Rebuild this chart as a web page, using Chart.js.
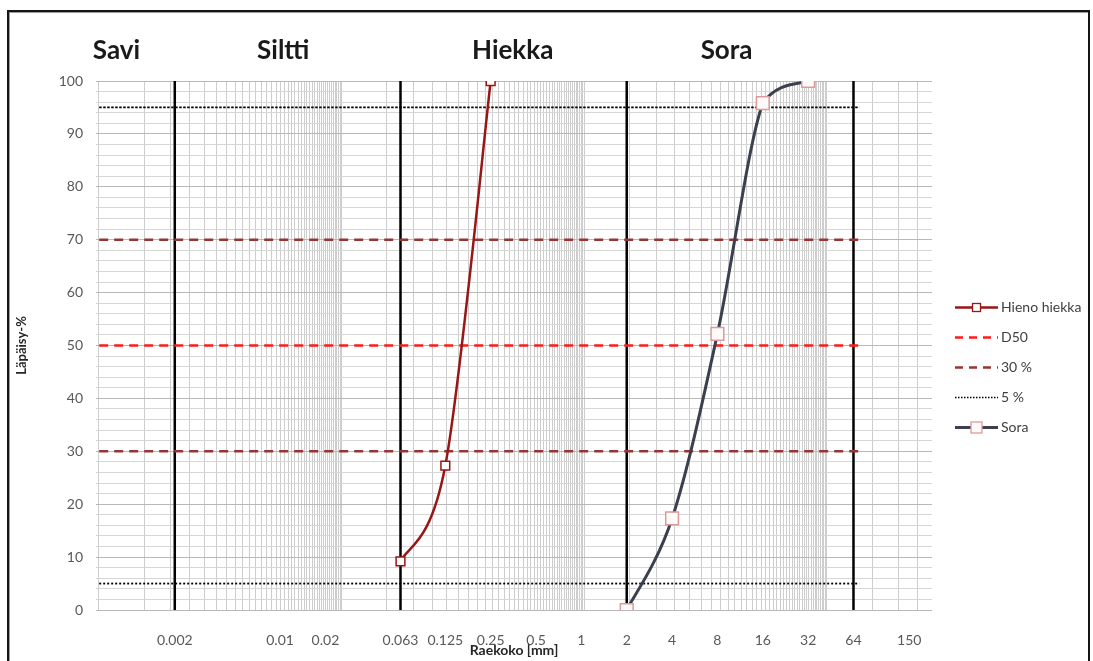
<!DOCTYPE html>
<html><head><meta charset="utf-8">
<script src="https://cdn.jsdelivr.net/npm/chart.js@4"></script>
<style>
html,body{margin:0;padding:0;background:#fff;width:1093px;height:661px;overflow:hidden}
#wrap{position:absolute;left:0;top:0;width:1093px;height:661px}
#frame{position:absolute;left:7px;top:10px;width:1079px;height:700px;border:2px solid #151515;box-shadow:inset 1px 1px 0 #9a9a9a;pointer-events:none}
</style></head><body>
<div id="wrap"><canvas id="c" width="1093" height="661"></canvas></div>
<div id="frame"></div>
<script>
// ---- data ----
const HIENO_X = [0.063, 0.125, 0.25];
const HIENO_Y = [9.2, 27.3, 100];
const SORA_X = [2, 4, 8, 16, 32];
const SORA_Y = [0, 17.3, 52.2, 95.8, 100];
const D50_Y = [50];
const LIMIT30_Y = [30, 70];
const LIMIT5_Y = [5, 95];
const LIMIT_X = [0.00063, 70];
const FRACTION_BOUNDS = [0.002, 0.063, 2, 64];
const FRACTION_NAMES = ['Savi', 'Siltti', 'Hiekka', 'Sora'];
const FRACTION_LABEL_X = [0.00082, 0.0105, 0.35, 9.2];
const X_TICKS = [0.002, 0.01, 0.02, 0.063, 0.125, 0.25, 0.5, 1, 2, 4, 8, 16, 32, 64, 150];
const X_TICK_LABELS = ['0.002', '0.01', '0.02', '0.063', '0.125', '0.25', '0.5', '1', '2', '4', '8', '16', '32', '64', '150'];
const Y_TICKS_MAJOR = [0, 10, 20, 30, 40, 50, 60, 70, 80, 90, 100];
const X_MIN = 0.000628, X_MAX = 212.5, GRID_BASE = 40.8;

// gridline positions (Excel-like log minor grid)
const GRID_X = [];
for (let c = X_MIN; c < X_MAX; c *= GRID_BASE) {
  for (let k = 1; k <= 40; k++) { const v = c * k; if (v <= X_MAX * 1.0001) GRID_X.push(v); }
}

const HIENO_C = '#981616', SORA_C = '#3b3f4e', D50_C = '#ff1a1a', L30_C = '#963634', L5_C = '#000000';
const FONT = 'Lato, "Open Sans", sans-serif';

const pts = (xs, ys) => xs.map((x, i) => ({x, y: ys[i]}));
const hline = (y) => LIMIT_X.map(x => ({x, y}));
const vline = (x) => [{x, y: 0}, {x, y: 100}];

const datasets = [
  {label: 'Hieno hiekka', data: pts(HIENO_X, HIENO_Y), borderColor: HIENO_C, borderWidth: 2.5, tension: 0.4, smoothExcel: true,
   pointStyle: 'rect', pointRadius: 6.2, pointBackgroundColor: '#fff', pointBorderColor: HIENO_C, pointBorderWidth: 1.5, order: 0},
  {label: 'Sora', data: pts(SORA_X, SORA_Y), borderColor: SORA_C, borderWidth: 3, tension: 0.4, smoothExcel: true,
   pointStyle: 'rect', pointRadius: 9, pointBackgroundColor: '#fffafa', pointBorderColor: '#dd9a9a', pointBorderWidth: 1.5, order: 0},
  {label: 'D50', data: hline(D50_Y[0]), borderColor: D50_C, borderWidth: 2.5, borderDash: [9, 6], pointRadius: 0, order: 1},
  {label: '30 %', data: hline(LIMIT30_Y[0]), borderColor: L30_C, borderWidth: 2.5, borderDash: [9, 6], pointRadius: 0, order: 1},
  {label: '30 %b', data: hline(LIMIT30_Y[1]), borderColor: L30_C, borderWidth: 2.5, borderDash: [9, 6], pointRadius: 0, order: 1},
  {label: '5 %', data: hline(LIMIT5_Y[0]), borderColor: L5_C, borderWidth: 1.8, borderDash: [2, 2], pointRadius: 0, order: 1},
  {label: '5 %b', data: hline(LIMIT5_Y[1]), borderColor: L5_C, borderWidth: 1.8, borderDash: [2.5, 1.5], pointRadius: 0, order: 1},
  ...FRACTION_BOUNDS.map(b => ({label: 'raja ' + b, data: vline(b), borderColor: '#000', borderWidth: 2.5, pointRadius: 0, order: 2}))
];

const LEGEND = [
  {text: 'Hieno hiekka', color: HIENO_C, dash: [], width: 2.5, marker: {fill: '#fff', stroke: HIENO_C, size: 8}},
  {text: 'D50', color: D50_C, dash: [8, 6], width: 2.5},
  {text: '30 %', color: L30_C, dash: [8, 6], width: 2.5},
  {text: '5 %', color: L5_C, dash: [1.5, 1.5], width: 1.5},
  {text: 'Sora', color: SORA_C, dash: [], width: 3, marker: {fill: '#fffafa', stroke: '#dd9a9a', size: 11}}
];

// Excel-style (Catmull-Rom) smoothing of the measured curves
const excelSmooth = {
  id: 'excelSmooth',
  afterDatasetsUpdate(chart) {
    const area = chart.chartArea;
    chart.data.datasets.forEach((ds, di) => {
      if (!ds.smoothExcel) return;
      const meta = chart.getDatasetMeta(di);
      const p = meta.data;
      for (let i = 0; i < p.length; i++) {
        const prev = p[i - 1] || p[i], next = p[i + 1] || p[i];
        const dx = (next.x - prev.x) / 6, dy = (next.y - prev.y) / 6;
        const cl = v => Math.max(area.top, Math.min(area.bottom, v));
        p[i].cp1x = p[i].x - dx; p[i].cp1y = cl(p[i].y - dy);
        p[i].cp2x = p[i].x + dx; p[i].cp2y = cl(p[i].y + dy);
      }
      if (meta.dataset) meta.dataset._pointsUpdated = true;
    });
  }
};

const extras = {
  id: 'extras',
  afterDraw(chart) {
    const ctx = chart.ctx, xs = chart.scales.x;
    ctx.save();
    ctx.font = 'bold 26px ' + FONT;
    ctx.fillStyle = '#1a1a1a';
    ctx.textAlign = 'center';
    ctx.textBaseline = 'middle';
    FRACTION_NAMES.forEach((n, i) => ctx.fillText(n, xs.getPixelForValue(FRACTION_LABEL_X[i]), 51));
    const lx = chart.chartArea.right + 23, ly0 = 307, step = 30;
    ctx.font = '14px ' + FONT;
    ctx.textAlign = 'left';
    LEGEND.forEach((it, i) => {
      const y = Math.round(ly0 + i * step) + 0.5;
      ctx.beginPath();
      ctx.setLineDash(it.dash);
      ctx.strokeStyle = it.color;
      ctx.lineWidth = it.width;
      ctx.moveTo(lx, y); ctx.lineTo(lx + 43, y);
      ctx.stroke();
      ctx.setLineDash([]);
      if (it.marker) {
        const s = it.marker.size;
        ctx.fillStyle = it.marker.fill; ctx.strokeStyle = it.marker.stroke; ctx.lineWidth = 1.3;
        ctx.fillRect(lx + 21.5 - s / 2, y - s / 2, s, s);
        ctx.strokeRect(lx + 21.5 - s / 2, y - s / 2, s, s);
      }
      ctx.fillStyle = '#404040';
      ctx.fillText(it.text, lx + 46, y);
    });
    ctx.restore();
  }
};

new Chart(document.getElementById('c'), {
  type: 'line',
  data: {datasets},
  options: {
    responsive: false, animation: false, devicePixelRatio: 1,
    layout: {padding: {top: 81, right: 161, bottom: 0, left: 0}},
    plugins: {legend: {display: false}, tooltip: {enabled: false}},
    scales: {
      x: {
        type: 'logarithmic', position: 'bottom', min: X_MIN, max: X_MAX,
        grid: {display: false}, border: {display: false},
        afterBuildTicks: s => { s.ticks = X_TICKS.map(v => ({value: v})); },
        afterFit: s => { s.height = 51; },
        ticks: {autoSkip: false, maxRotation: 0, minRotation: 0, padding: 14, color: '#595959', font: {family: FONT, size: 14},
          callback: (v, i) => X_TICK_LABELS[i]},
        title: {display: true, text: 'Raekoko [mm]', color: '#262626', font: {family: FONT, size: 14, weight: 'bold'}, padding: {top: 0, bottom: 2}}
      },
      xg: {
        type: 'logarithmic', position: 'top', min: X_MIN, max: X_MAX,
        grid: {color: '#cdcdcd', lineWidth: 1, drawTicks: false}, border: {display: false},
        ticks: {display: false},
        afterBuildTicks: s => { s.ticks = GRID_X.map(v => ({value: v})); },
        afterFit: s => { s.height = 0; }
      },
      y: {
        type: 'linear', min: 0, max: 100,
        border: {display: false},
        grid: {drawTicks: false, color: c => (Y_TICKS_MAJOR.includes(c.tick.value) ? '#b8b8b8' : '#d6d6d6')},
        afterFit: s => { s.width = 96; },
        ticks: {stepSize: 2, autoSkip: false, padding: 13, color: '#595959', font: {family: FONT, size: 14},
          callback: v => (Y_TICKS_MAJOR.includes(v) ? String(v) : '')},
        title: {display: true, text: 'Läpäisy-%', color: '#262626', font: {family: FONT, size: 13, weight: 'bold'}, padding: {top: 14, bottom: 0}}
      }
    }
  },
  plugins: [excelSmooth, extras]
});
</script>
</body></html>
